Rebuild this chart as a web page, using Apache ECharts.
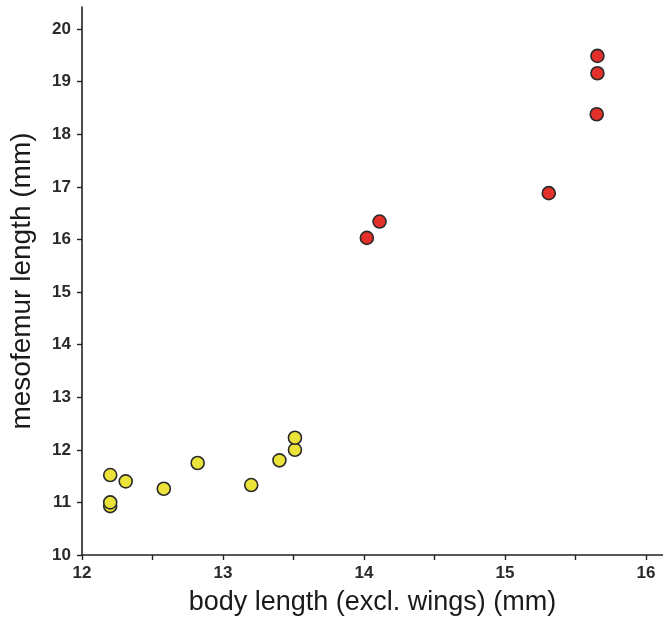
<!DOCTYPE html>
<html>
<head>
<meta charset="utf-8">
<script src="https://cdn.jsdelivr.net/npm/echarts@6/dist/echarts.min.js"></script>
<style>html,body{margin:0;padding:0;background:#fff}#c{width:663px;height:621px}</style>
</head>
<body>
<div id="c"></div>
<script>
// body length (mm), mesofemur length (mm)
var yellowX = [12.20, 12.20, 12.20, 12.31, 12.58, 12.82, 13.20, 13.40, 13.51, 13.51];
var yellowY = [10.93, 11.00, 11.52, 11.40, 11.26, 11.75, 11.33, 11.80, 12.00, 12.23];
var redX = [14.02, 14.11, 15.31, 15.65, 15.655, 15.655];
var redY = [16.03, 16.34, 16.88, 18.38, 19.16, 19.49];
var xTickValues = [12, 12.5, 13, 13.5, 14, 14.5, 15, 15.5, 16];
var xLabelValues = [12, 13, 14, 15, 16];
var yTickValues = [10, 11, 12, 13, 14, 15, 16, 17, 18, 19, 20];

function pairs(xs, ys) { return xs.map(function (x, i) { return [x, ys[i]]; }); }

var chart = echarts.init(document.getElementById('c'));
var font = 'Liberation Sans, Arial, sans-serif';
chart.setOption({
  animation: false,
  grid: { left: 82, right: 0, top: 7, bottom: 64, containLabel: false },
  xAxis: {
    type: 'value', min: 12, max: 16.12,
    name: 'body length (excl. wings) (mm)', nameLocation: 'middle', nameGap: 34,
    nameTextStyle: { fontSize: 27, color: '#1a1a1a', fontFamily: font },
    axisLine: { show: true, onZero: false, lineStyle: { color: '#222', width: 1.6 } },
    axisTick: { show: true, customValues: xTickValues, length: 5, inside: false, lineStyle: { color: '#222', width: 1.4 } },
    axisLabel: { customValues: xLabelValues, fontSize: 17, fontWeight: 'bold', color: '#2a2a2a', fontFamily: font, margin: 10 },
    splitLine: { show: false }
  },
  yAxis: {
    type: 'value', min: 10, max: 20.42,
    name: 'mesofemur length (mm)', nameLocation: 'middle', nameGap: 46,
    nameTextStyle: { fontSize: 28, color: '#1a1a1a', fontFamily: font },
    axisLine: { show: true, onZero: false, lineStyle: { color: '#222', width: 1.6 } },
    axisTick: { show: true, customValues: yTickValues, length: 5, inside: false, lineStyle: { color: '#222', width: 1.4 } },
    axisLabel: { customValues: yTickValues, fontSize: 17, fontWeight: 'bold', color: '#2a2a2a', fontFamily: font, margin: 11 },
    splitLine: { show: false }
  },
  series: [
    {
      type: 'scatter', data: pairs(yellowX, yellowY), symbolSize: 13,
      itemStyle: { color: '#ece33a', borderColor: '#2a2a2a', borderWidth: 1.6, opacity: 1 }
    },
    {
      type: 'scatter', data: pairs(redX, redY), symbolSize: 13,
      itemStyle: { color: '#e3302a', borderColor: '#2a2a2a', borderWidth: 1.6, opacity: 1 }
    }
  ]
});
</script>
</body>
</html>
